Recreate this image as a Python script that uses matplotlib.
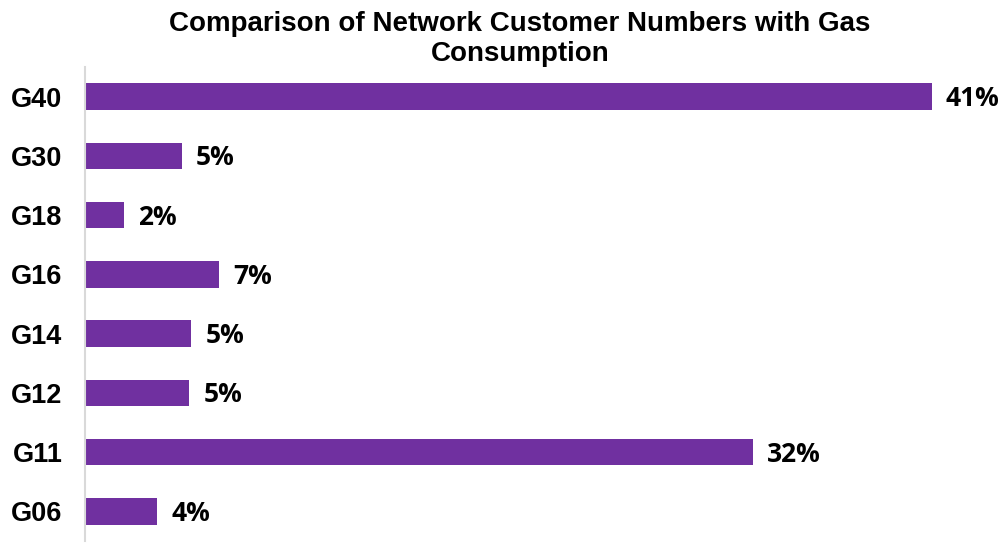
import matplotlib
matplotlib.use("Agg")
import matplotlib.pyplot as plt

# Share of network customers by gas consumption group (%)
categories = ["G40", "G30", "G18", "G16", "G14", "G12", "G11", "G06"]
shares = [41.0, 4.7, 1.9, 6.53, 5.17, 5.08, 32.35, 3.53]

title = "Comparison of Network Customer Numbers with Gas\nConsumption"
bar_color = "#7030A0"

fig = plt.figure(figsize=(10.06, 5.44), dpi=100)
ax = fig.add_axes([84.5 / 1006, 3 / 544, (1000 - 84.5) / 1006, (541 - 67) / 544])

ypos = list(range(len(categories)))
ax.barh(ypos, shares, height=0.45, color=bar_color)
ax.set_ylim(len(categories) - 0.5, -0.5)
ax.set_xlim(0, 44.3)

ax.set_yticks(ypos)
ax.set_yticklabels(categories, fontfamily="Liberation Sans", fontweight="bold", fontsize=19.5)
ax.tick_params(axis="y", length=0, pad=16)
ax.set_xticks([])

for s in ["top", "right", "bottom"]:
    ax.spines[s].set_visible(False)
ax.spines["left"].set_color("#D9D9D9")
ax.spines["left"].set_linewidth(1.5)

for y, v in zip(ypos, shares):
    label = f"{int(v + 0.5)}%"
    ax.annotate(label, xy=(v, y), xytext=(14, -2), textcoords="offset pixels",
                ha="left", va="center", fontfamily="Open Sans", fontweight="bold",
                fontsize=19, color="black")

fig.text(520 / 1006, 1 - 39 / 544, title, ha="center", va="center",
         fontfamily="Liberation Sans", fontweight="bold", fontsize=20,
         linespacing=1.18)

fig.savefig("out.png", dpi=100)
